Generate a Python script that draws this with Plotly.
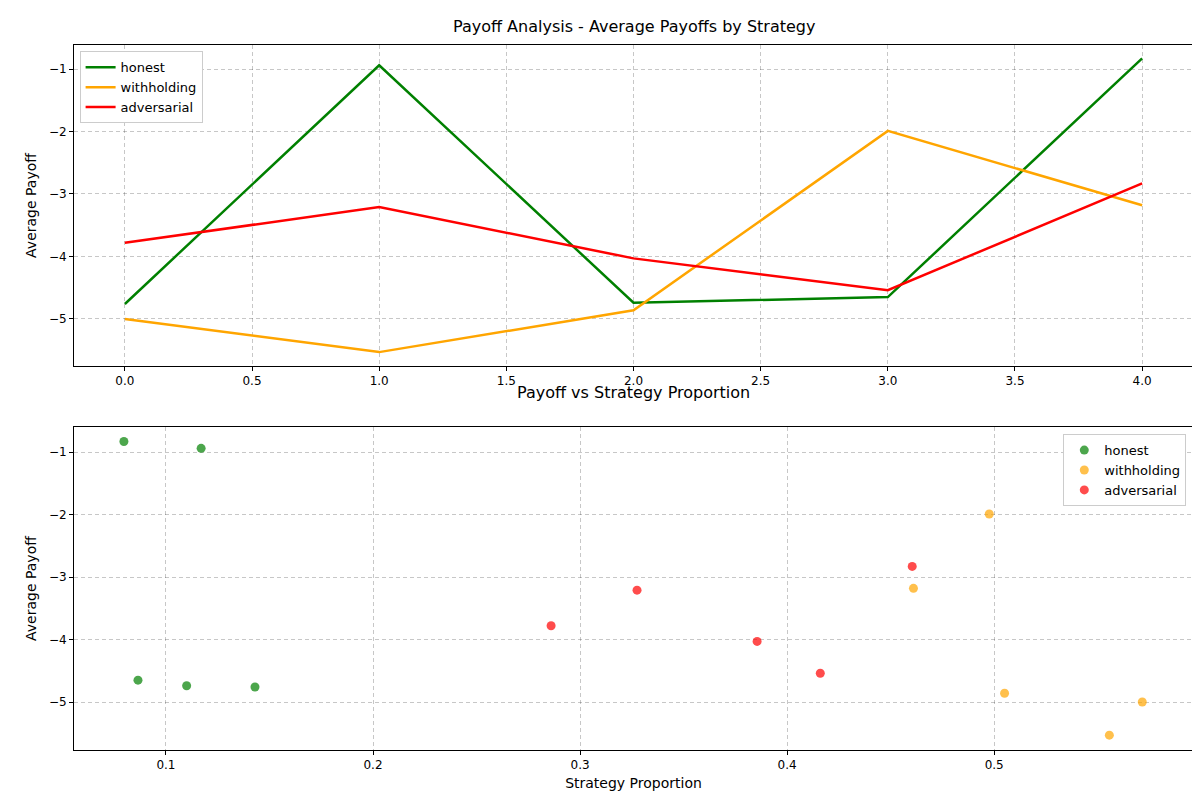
import plotly.graph_objects as go
from plotly.subplots import make_subplots

steps = [0, 1, 2, 3, 4]
strategies = ["honest", "withholding", "adversarial"]
colors = {"honest": "green", "withholding": "orange", "adversarial": "red"}

payoffs = {
    "honest": [-4.76, -0.94, -4.74, -4.65, -0.83],
    "withholding": [-5.00, -5.53, -4.86, -1.99, -3.18],
    "adversarial": [-3.78, -3.21, -4.03, -4.54, -2.83],
}
proportions = {
    "honest": [0.143, 0.117, 0.110, 0.0865, 0.0797],
    "withholding": [0.5715, 0.5556, 0.505, 0.4976, 0.461],
    "adversarial": [0.286, 0.3275, 0.3855, 0.416, 0.4604],
}

fig = make_subplots(rows=2, cols=1)

for s in strategies:
    fig.add_trace(go.Scatter(
        x=steps, y=payoffs[s], mode="lines", name=s,
        line=dict(color=colors[s], width=2.5), legend="legend"
    ), row=1, col=1)

for s in strategies:
    fig.add_trace(go.Scatter(
        x=proportions[s], y=payoffs[s], mode="markers", name=s,
        marker=dict(color=colors[s], size=9, opacity=0.7), legend="legend2"
    ), row=2, col=1)

axis_style = dict(
    showline=True, linecolor="black", linewidth=1, mirror=True,
    showgrid=True, gridcolor="rgba(0,0,0,0.22)", griddash="4px,3px",
    ticks="outside", ticklen=4, tickcolor="black", zeroline=False,
    tickfont=dict(size=12, color="black"), automargin=False,
)

fig.update_xaxes(axis_style)
fig.update_yaxes(axis_style)

fig.update_layout(
    width=1200, height=800,
    paper_bgcolor="white", plot_bgcolor="white",
    font=dict(family="DejaVu Sans", size=12, color="black"),
    margin=dict(l=66, r=15, t=37, b=58),
    xaxis=dict(domain=[0, 1], range=[-0.2, 4.2], dtick=0.5, tickformat=".1f"),
    yaxis=dict(domain=[0.5447, 1], range=[-5.752, -0.616], dtick=1,
               title=dict(text="Average Payoff", standoff=8)),
    xaxis2=dict(domain=[0, 1], range=[0.0556, 0.596], dtick=0.1, tickformat=".1f",
                title=dict(text="Strategy Proportion", standoff=6)),
    yaxis2=dict(domain=[0, 0.458], range=[-5.768, -0.6], dtick=1,
                title=dict(text="Average Payoff", standoff=8)),
    legend=dict(x=0.005, y=0.991, xanchor="left", yanchor="top",
                bordercolor="#ccc", borderwidth=1, bgcolor="white", font=dict(size=13)),
    legend2=dict(x=0.994, y=0.448, xanchor="right", yanchor="top",
                 bordercolor="#ccc", borderwidth=1, bgcolor="white", font=dict(size=13)),
    annotations=[
        dict(text="Payoff Analysis - Average Payoffs by Strategy", x=0.5, y=1.01,
             xref="paper", yref="paper", xanchor="center", yanchor="bottom",
             showarrow=False, font=dict(size=16)),
        dict(text="Payoff vs Strategy Proportion", x=0.5, y=0.491,
             xref="paper", yref="paper", xanchor="center", yanchor="bottom",
             showarrow=False, font=dict(size=16)),
    ],
)

fig.write_html("out.html")
